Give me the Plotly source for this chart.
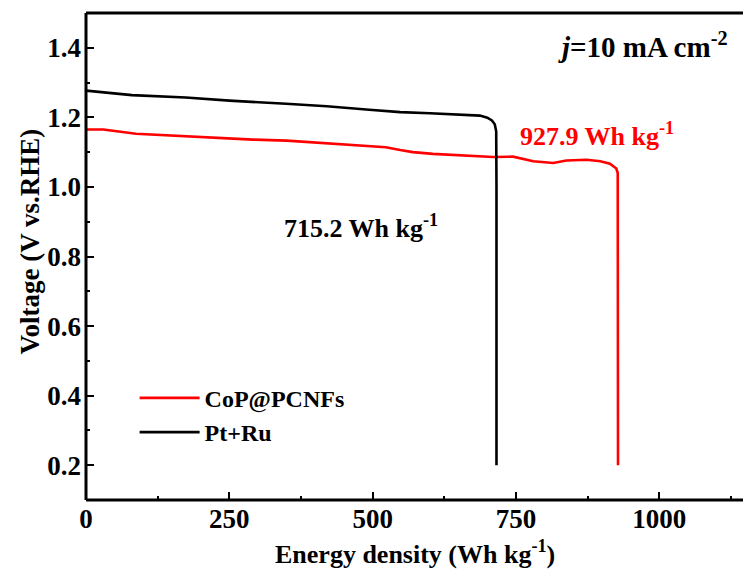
import plotly.graph_objects as go

# Pt+Ru discharge curve
pt_E = [0, 30, 80, 174, 250, 349, 420, 494, 548, 600, 650, 687, 700, 708, 713, 715.5, 716, 716]
pt_V = [1.277, 1.272, 1.264, 1.257, 1.248, 1.239, 1.232, 1.222, 1.215, 1.212, 1.209, 1.205, 1.199, 1.191, 1.180, 1.160, 1.0, 0.2]

# CoP@PCNFs discharge curve
cop_E = [0, 30, 87, 150, 200, 291, 350, 436, 523, 548, 570, 605, 650, 710, 745, 780, 815, 838, 873, 897, 914, 925, 927.5, 928, 928]
cop_V = [1.165, 1.165, 1.153, 1.148, 1.142, 1.136, 1.133, 1.124, 1.114, 1.106, 1.100, 1.095, 1.091, 1.086, 1.087, 1.074, 1.069, 1.076, 1.078, 1.074, 1.067, 1.053, 1.040, 0.6, 0.2]

x_ticks = [0, 250, 500, 750, 1000]
y_ticks = [0.2, 0.4, 0.6, 0.8, 1.0, 1.2, 1.4]

FONT = "Liberation Serif, Times New Roman, DejaVu Serif"

fig = go.Figure()
fig.add_trace(go.Scatter(x=cop_E, y=cop_V, mode="lines", name="<b>CoP@PCNFs</b>",
                         line=dict(color="#ff0000", width=2.6)))
fig.add_trace(go.Scatter(x=pt_E, y=pt_V, mode="lines", name="<b>Pt+Ru</b>",
                         line=dict(color="#000000", width=2.6)))

fig.update_layout(
    width=743, height=576,
    margin=dict(l=86, r=0, t=13, b=76, autoexpand=False),
    plot_bgcolor="white", paper_bgcolor="white",
    font=dict(family=FONT, size=26, color="black"),
    showlegend=True,
    dragmode=False,
    legend=dict(x=0.074, y=0.255, xanchor="left", yanchor="top",
                bgcolor="rgba(0,0,0,0)", itemwidth=60, tracegroupgap=0,
                font=dict(family=FONT, size=24, color="black")),
)

fig.update_xaxes(
    range=[0, 1146], tickvals=x_ticks, ticktext=[f"<b>{v}</b>" for v in x_ticks],
    showgrid=False, zeroline=False, automargin=False,
    showline=False, mirror=False,
    ticks="inside", ticklen=8, tickwidth=2, tickcolor="black",
    minor=dict(ticks="inside", ticklen=4, tickwidth=2, tickcolor="black", dtick=125, tick0=0),
    ticklabelstandoff=0,
    tickfont=dict(family=FONT, size=27, color="black"),
)
fig.update_yaxes(
    range=[0.1, 1.5], tickvals=y_ticks, ticktext=[f"<b>{v:.1f}</b>" for v in y_ticks],
    showgrid=False, zeroline=False, automargin=False,
    showline=False, mirror=False,
    ticks="inside", ticklen=8, tickwidth=2, tickcolor="black",
    minor=dict(ticks="inside", ticklen=4, tickwidth=2, tickcolor="black", dtick=0.1, tick0=0.1, showgrid=False),
    ticklabelstandoff=4,
    tickfont=dict(family=FONT, size=27, color="black"),
)

# frame lines: left, bottom and top (no right spine)
frame = dict(color="black", width=3)
fig.add_shape(type="line", xref="paper", yref="paper", x0=0, x1=1, y0=0, y1=0, line=frame, layer="above")
fig.add_shape(type="line", xref="paper", yref="paper", x0=0, x1=1, y0=1, y1=1, line=frame, layer="above")
fig.add_shape(type="line", xref="paper", yref="paper", x0=0, x1=0, y0=0, y1=1, line=frame, layer="above")

# axis titles
fig.add_annotation(xref="paper", yref="paper", x=0.5, y=-0.107, xanchor="center", yanchor="middle",
                   text="<b>Energy density (Wh kg<sup>-1</sup>)</b>", showarrow=False,
                   font=dict(family=FONT, size=26, color="black"))
fig.add_annotation(xref="paper", yref="paper", x=-0.085, y=0.531, xanchor="center", yanchor="middle",
                   text="<b>Voltage (V vs.RHE)</b>", showarrow=False, textangle=-90,
                   font=dict(family=FONT, size=27, color="black"))

fig.add_annotation(xref="paper", yref="paper", x=0.98, y=0.934, xanchor="right", yanchor="middle",
                   text="<b><i>j</i>=10 mA cm<sup>-2</sup></b>", showarrow=False,
                   font=dict(family=FONT, size=29, color="black"))
fig.add_annotation(x=753, y=1.15, xanchor="left", yanchor="middle",
                   text="<b>927.9 Wh kg<sup>-1</sup></b>", showarrow=False,
                   font=dict(family=FONT, size=26, color="#ff0000"))
fig.add_annotation(x=342, y=0.885, xanchor="left", yanchor="middle",
                   text="<b>715.2 Wh kg<sup>-1</sup></b>", showarrow=False,
                   font=dict(family=FONT, size=26, color="black"))

fig.write_html("out.html", config={"displayModeBar": False, "staticPlot": True},
               post_script="document.body.style.margin='0';document.body.style.overflow='hidden';")
